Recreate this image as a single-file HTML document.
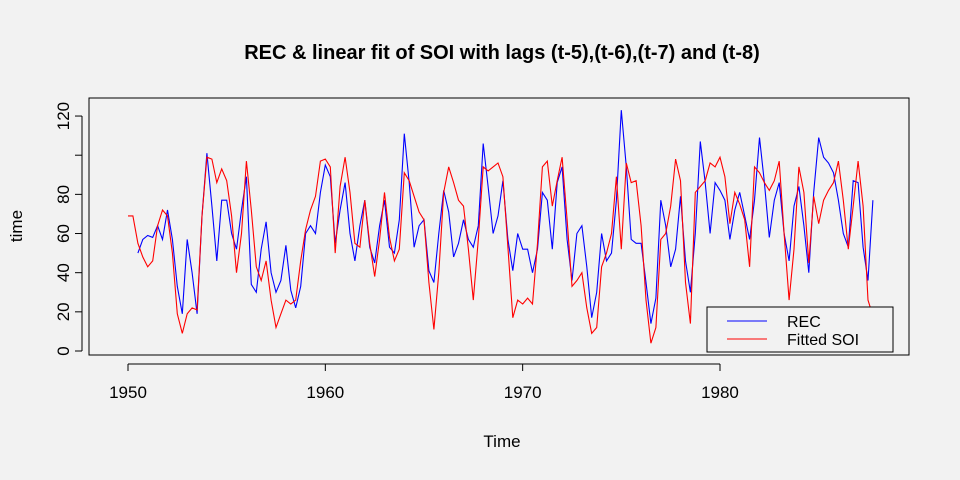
<!DOCTYPE html>
<html><head><meta charset="utf-8">
<style>
html,body{margin:0;padding:0;background:#f2f2f2;}
svg{display:block;font-family:"Liberation Sans",Arial,sans-serif;}
</style></head>
<body>
<svg id="chart" width="960" height="480" viewBox="0 0 960 480" xmlns="http://www.w3.org/2000/svg">
<rect x="0" y="0" width="960" height="480" fill="#f2f2f2"/>
<text x="502" y="59" text-anchor="middle" font-size="20" font-weight="bold" fill="#000">REC &amp; linear fit of SOI with lags (t-5),(t-6),(t-7) and (t-8)</text>
<rect x="89" y="98" width="820" height="257" fill="none" stroke="#000" stroke-width="1"/>
<g id="xaxis"></g>
<g id="yaxis"></g>
<text x="502" y="447" text-anchor="middle" font-size="17" fill="#000">Time</text>
<text x="0" y="0" transform="translate(22,226) rotate(-90)" text-anchor="middle" font-size="17" fill="#000">time</text>
<g id="series"></g>
<g>
<rect x="707" y="307" width="186" height="45" fill="#f2f2f2" stroke="#000" stroke-width="1"/>
<line x1="727" y1="321" x2="767" y2="321" stroke="#0000ff" stroke-width="1"/>
<text x="787" y="327" font-size="16" fill="#000">REC</text>
<line x1="727" y1="339" x2="767" y2="339" stroke="#ff0000" stroke-width="1"/>
<text x="787" y="345" font-size="16" fill="#000">Fitted SOI</text>
</g>
</svg>
<script>
const xTicks = [1950, 1960, 1970, 1980];
const yTicks = [0, 20, 40, 60, 80, 100, 120];
const yTickLabels = ["0", "20", "40", "60", "80", "", "120"];
const recStart = 1950.5;
const fitStart = 1950.0;
const step = 0.25;
const recValues = [50,57,59,58,64,57,72,57,33,19,57,40,19,69,101,74,46,77,77,60,52,72,89,34,30,52,66,40,30,36,54,31,22,33,60,64,60,81,95,
89,55,72,86,60,46,64,77,53,45,64,77,53,50,67,111,86,53,64,67,41,35,60,82,71,48,55,67,57,53,64,106,84,60,69,87,57,41,60,52,
52,40,52,81,77,52,86,94,57,36,60,64,43,17,30,60,46,50,77,123,94,57,55,55,35,14,27,77,64,43,52,79,46,30,60,107,86,60,86,82,
77,57,72,81,69,57,77,109,86,58,77,86,60,46,74,84,64,40,81,109,99,96,91,77,60,53,87,86,53,36,77];
const fitValues = [69,69,55,48,43,46,64,72,69,50,19,9,19,22,21,69,99,98,86,93,87,69,40,60,97,72,43,36,46,26,12,19,26,24,26,46,62,72,79,97,98,
94,50,84,99,81,55,53,77,55,38,57,81,58,46,52,91,87,79,71,67,35,11,40,81,94,86,77,74,52,26,57,94,92,94,96,89,53,17,26,24,
27,24,55,94,97,74,87,99,67,33,36,40,22,9,12,43,50,60,89,52,96,86,87,64,26,4,12,57,60,74,98,87,35,14,81,84,87,96,94,99,
89,65,81,75,67,43,94,91,86,82,87,97,60,26,52,94,81,45,79,65,77,82,86,97,77,52,74,97,74,26,18];

const L=89,R=909,T=98,B=355;
function xs(year){ return 128 + (year-1950)*19.733; }
function ys(v){ return 351 - v*1.958; }
const NS="http://www.w3.org/2000/svg";
function mk(tag, attrs){ const e=document.createElementNS(NS,tag); for(const k in attrs) e.setAttribute(k,attrs[k]); return e; }

const xg=document.getElementById('xaxis');
const xl=mk('line',{x1:xs(xTicks[0]),y1:364,x2:xs(xTicks[xTicks.length-1]),y2:364,stroke:'#000'});


xg.appendChild(xl);
xTicks.forEach(t=>{
  const tk=mk('line',{x1:xs(t),y1:364,x2:xs(t),y2:371,stroke:'#000'});
  
  
  xg.appendChild(tk);
  const tx=mk('text',{x:xs(t),y:398,'text-anchor':'middle','font-size':17,fill:'#000'});
  tx.textContent=t;
  
  
  xg.appendChild(tx);
});
const yg=document.getElementById('yaxis');
const yl=mk('line',{x1:82,y1:ys(yTicks[0]),x2:82,y2:ys(yTicks[yTicks.length-1]),stroke:'#000'});


yg.appendChild(yl);
yTicks.forEach((t,i)=>{
  const tk=mk('line',{x1:75,y1:ys(t),x2:82,y2:ys(t),stroke:'#000'});
  
  
  yg.appendChild(tk);
  if(yTickLabels[i]){
    const tx=mk('text',{x:0,y:0,transform:'translate(69,'+ys(t)+') rotate(-90)','text-anchor':'middle','font-size':17,fill:'#000'});
    tx.textContent=yTickLabels[i];
    
    
    yg.appendChild(tx);
  }
});
const sg=document.getElementById('series');
function pathFor(vals,start){ return vals.map((v,i)=>(i?'L':'M')+xs(start+i*step).toFixed(1)+','+ys(v).toFixed(1)).join(''); }
const pr=mk('path',{d:pathFor(recValues,recStart),fill:'none',stroke:'#0000ff','stroke-width':1.1});


sg.appendChild(pr);
const pf=mk('path',{d:pathFor(fitValues,fitStart),fill:'none',stroke:'#ff0000','stroke-width':1.1});


sg.appendChild(pf);
</script>
</body></html>
